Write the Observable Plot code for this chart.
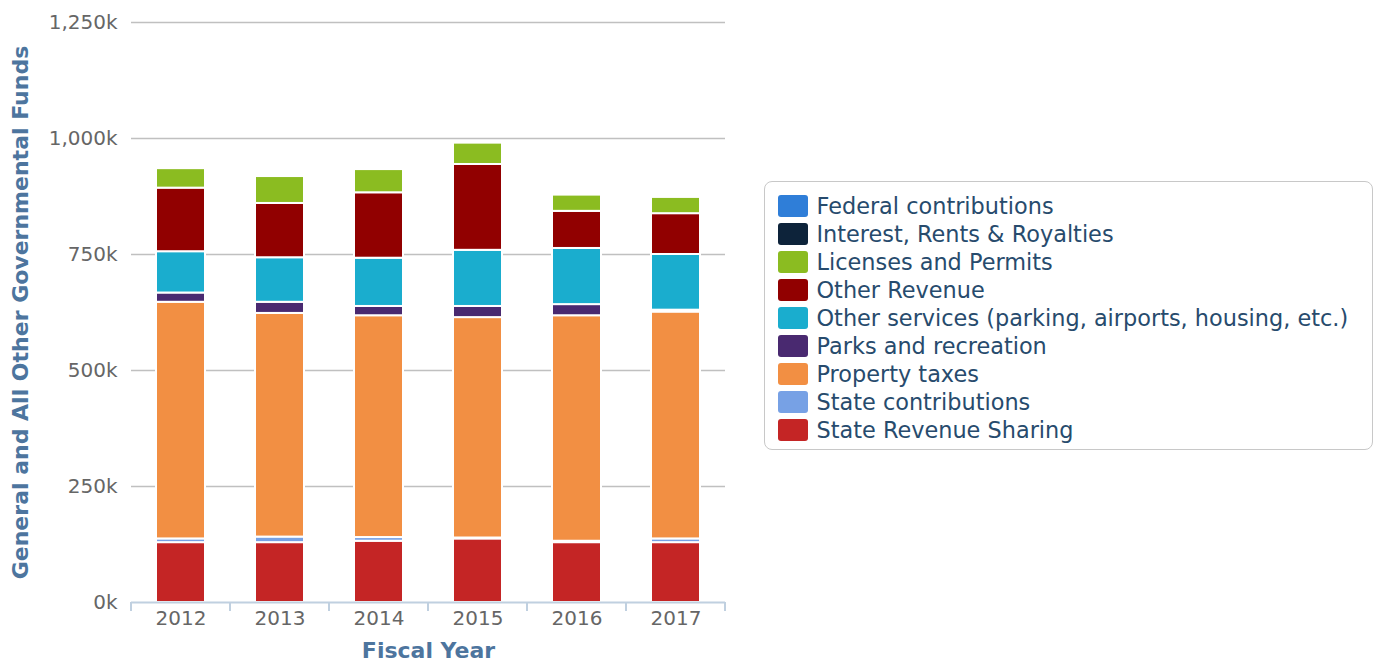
<!DOCTYPE html>
<html>
<head>
<meta charset="utf-8">
<script src="https://cdn.jsdelivr.net/npm/d3@7"></script>
<script src="https://cdn.jsdelivr.net/npm/@observablehq/plot@0.6"></script>
<style>
body{margin:0;font-family:"DejaVu Sans",sans-serif;background:#fff;}
#wrap{position:relative;width:1379px;height:662px;overflow:hidden;}
#chart{position:absolute;left:0;top:0;}
#legend{position:absolute;left:764px;top:181px;width:609px;height:269px;box-sizing:border-box;border:1.5px solid #c8c8c8;border-radius:8px;padding:10.5px 0 0 12.5px;}
.item{display:flex;align-items:center;height:27.9px;font-size:22.4px;color:#274b6d;white-space:nowrap;}
.sw{width:30px;height:22px;border-radius:3px;margin-right:9px;flex:none;}
</style>
</head>
<body>
<div id="wrap"><div id="chart"></div><div id="legend"></div></div>
<script>
const years = ["2012", "2013", "2014", "2015", "2016", "2017"];
const seriesNames = [
  "Federal contributions",
  "Interest, Rents & Royalties",
  "Licenses and Permits",
  "Other Revenue",
  "Other services (parking, airports, housing, etc.)",
  "Parks and recreation",
  "Property taxes",
  "State contributions",
  "State Revenue Sharing"
];
const seriesColors = ["#2f7ed8", "#0d233a", "#8bbc21", "#910000", "#1aadce", "#492970", "#f28f43", "#77a1e5", "#c42525"];

// values in thousands
const federalContributions = [0, 0, 0, 0, 0, 0];
const interestRentsRoyalties = [0, 0, 0, 0, 0, 0];
const licensesPermits = [42, 58, 50, 46, 35, 35];
const otherRevenue = [137, 117, 141, 185, 80, 88];
const otherServices = [89, 96, 104, 121, 121, 120];
const parksRecreation = [20, 24, 20, 24, 24, 4];
const propertyTaxes = [510, 482, 478, 475, 486, 489];
const stateContributions = [8, 12, 8, 2, 3, 8];
const stateRevenueSharing = [129, 129, 132, 137, 129, 129];

const yTicks = [0, 250, 500, 750, 1000, 1250];
const xTitle = "Fiscal Year";
const yTitle = "General and All Other Governmental Funds";

const seriesValues = [federalContributions, interestRentsRoyalties, licensesPermits, otherRevenue,
  otherServices, parksRecreation, propertyTaxes, stateContributions, stateRevenueSharing];

// bottom-to-top stacking: last legend series at the bottom
const rows = [];
for (let s = seriesNames.length - 1; s >= 0; s--) {
  years.forEach((yr, i) => {
    if (seriesValues[s][i] > 0) rows.push({year: yr, series: seriesNames[s], value: seriesValues[s][i]});
  });
}
const stackOrder = seriesNames.slice().reverse();

const chart = Plot.plot({
  width: 740,
  height: 662,
  marginTop: 22,
  marginBottom: 60,
  marginLeft: 131,
  marginRight: 15,
  style: {fontFamily: "DejaVu Sans", fontSize: "20px", background: "white", overflow: "visible"},
  x: {domain: years, paddingInner: 0.505, paddingOuter: 0.2525, label: null},
  y: {domain: [0, 1250], label: null},
  color: {domain: seriesNames, range: seriesColors},
  marks: [
    Plot.gridY(yTicks.filter(d => d > 0), {stroke: "#c0c0c0", strokeOpacity: 1, strokeWidth: 1.5}),
    Plot.barY(rows, {x: "year", y: "value", fill: "series", stroke: "white", strokeWidth: 2, order: stackOrder}),
    Plot.ruleY([0], {stroke: "#c0d0e0", strokeWidth: 2}),
    Plot.axisY({ticks: yTicks, tickSize: 0, tickPadding: 14, tickFormat: d => d3.format(",")(d) + "k", color: "#666", fontSize: 20, label: null}),
    Plot.axisX({tickSize: 0, tickPadding: 8, color: "#666", fontSize: 20, label: null}),
    Plot.text([xTitle], {frameAnchor: "bottom", dy: 48, text: d => d, fill: "#4d759e", fontSize: 22, fontWeight: "bold", lineAnchor: "middle"}),
    Plot.text([yTitle], {frameAnchor: "left", dx: -111, rotate: -90, text: d => d, fill: "#4d759e", fontSize: 22, fontWeight: "bold", lineAnchor: "middle", textAnchor: "middle"})
  ]
});

// category-boundary tick marks (Highcharts style), from Plot's scales
const xs = chart.scale("x");
const ys = chart.scale("y");
const step = xs.step, bw = xs.bandwidth;
const bounds = years.map(y => xs.apply(y) - (step - bw) / 2);
bounds.push(bounds[bounds.length - 1] + step);
const y0 = ys.apply(0);
d3.select(chart).append("g")
  .selectAll("line").data(bounds).join("line")
  .attr("x1", d => d).attr("x2", d => d)
  .attr("y1", y0).attr("y2", y0 + 9)
  .attr("stroke", "#c0d0e0").attr("stroke-width", 2);

document.getElementById("chart").appendChild(chart);

// legend from the chart's color scale
const cs = chart.scale("color");
const legend = d3.select("#legend");
cs.domain.forEach(name => {
  const item = legend.append("div").attr("class", "item");
  item.append("div").attr("class", "sw").style("background", cs.apply(name));
  item.append("span").text(name);
});
</script>
</body>
</html>
